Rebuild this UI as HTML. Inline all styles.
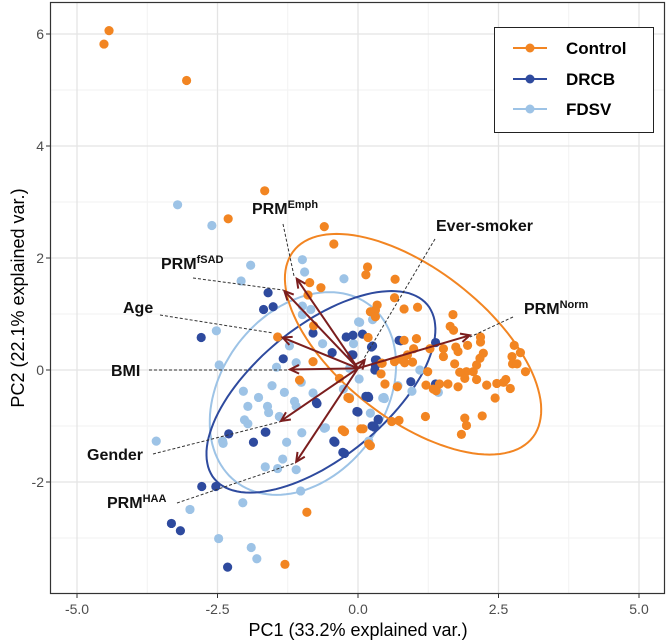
<!DOCTYPE html>
<html><head><meta charset="utf-8"><style>
html,body{margin:0;padding:0;background:#fff;}
svg{display:block;font-family:"Liberation Sans",Arial,sans-serif;}
</style></head><body>
<svg id="chart" width="669" height="644" viewBox="0 0 669 644">
<g id="grid"></g>
<g id="ellipses"></g>
<g id="points"></g>
<g id="leaders"></g>
<g id="arrows"></g>
<g id="labels"></g>
<rect x="50.5" y="2.5" width="614" height="591" fill="none" stroke="#333" stroke-width="1.2"/>
<g id="axes"></g>
<text x="358" y="636" font-size="18" text-anchor="middle" fill="#000">PC1 (33.2% explained var.)</text>
<text transform="translate(24,298) rotate(-90)" font-size="18" text-anchor="middle" fill="#000">PC2 (22.1% explained var.)</text>
<g>
<rect x="494.5" y="27.5" width="159" height="105" fill="#fff" stroke="#222" stroke-width="1"/>
<g><line x1="513" y1="48" x2="547" y2="48" stroke="#F28522" stroke-width="2"/><circle cx="530" cy="48" r="4.5" fill="#F28522"/><text x="566" y="54" font-size="17" font-weight="bold">Control</text></g>
<g><line x1="513" y1="79" x2="547" y2="79" stroke="#2E4A9E" stroke-width="2"/><circle cx="530" cy="79" r="4.5" fill="#2E4A9E"/><text x="566" y="85" font-size="17" font-weight="bold">DRCB</text></g>
<g><line x1="513" y1="109" x2="547" y2="109" stroke="#9DC3E6" stroke-width="2"/><circle cx="530" cy="109" r="4.5" fill="#9DC3E6"/><text x="566" y="115" font-size="17" font-weight="bold">FDSV</text></g>
</g>
</svg>
<script>
const xTicks=[-5,-2.5,0,2.5,5];
const xTickLabels=["-5.0","-2.5","0.0","2.5","5.0"];
const xMinor=[-3.75,-1.25,1.25,3.75];
const yTicks=[-2,0,2,4,6];
const yTickLabels=["-2","0","2","4","6"];
const yMinor=[-3,-1,1,3,5];
const ctrlX=[-4.43,-4.52,-3.05,-1.66,-2.31,-0.6,-0.43,0.17,0.14,-0.86,-0.66,-0.89,0.34,0.22,0.66,0.65,0.82,1.06,0.31,0.31,1.69,1.64,1.70,2.18,2.18,0.18,0.82,1.04,1.28,1.52,1.52,1.74,1.78,1.95,0.99,0.88,0.76,0.65,0.83,0.97,0.42,2.23,2.17,2.11,2.05,1.93,1.81,1.72,1.24,1.90,2.11,2.29,2.47,2.59,2.63,2.71,2.44,2.74,2.78,2.89,2.75,2.83,2.98,0.41,0.48,0.70,1.21,1.34,1.45,1.60,1.78,1.39,-0.18,1.20,1.90,1.93,2.21,1.84,0.60,0.73,0.05,-0.28,0.19,-1.43,-0.79,-0.80,-1.04,-0.33,-0.15,-0.24,0.09,0.22,-0.91,-1.30,0.43];
const ctrlY=[6.06,5.82,5.17,3.2,2.70,2.56,2.25,1.84,1.70,1.56,1.47,1.34,1.16,1.04,1.62,1.29,1.09,1.12,1.07,0.95,0.99,0.78,0.71,0.59,0.50,0.58,0.53,0.56,0.38,0.38,0.24,0.41,0.33,0.44,0.38,0.27,0.19,0.15,0.13,0.14,0.12,0.30,0.21,0.09,-0.03,-0.03,-0.04,0.11,-0.03,-0.15,-0.17,-0.27,-0.24,-0.22,-0.17,-0.33,-0.5,0.24,0.44,0.31,0.11,0.11,-0.03,-0.07,-0.25,-0.30,-0.27,-0.34,-0.25,-0.25,-0.30,-0.37,-0.49,-0.83,-0.86,-0.99,-0.82,-1.15,-0.92,-0.90,-1.05,-1.07,-1.32,0.59,0.79,0.15,-0.18,-0.15,-0.51,-1.10,-1.05,-1.35,-2.54,-3.47,0.12];
const drcbX=[-1.60,-1.68,-1.51,-2.79,-0.80,-0.21,-0.09,0.08,-0.46,-0.09,0.26,-1.33,0.33,0.30,0.18,-0.74,-0.02,0.36,0.27,-2.30,-1.65,-1.86,-0.43,-0.27,0.76,0.94,-2.78,-2.53,-3.32,-3.16,-2.32,-0.73,-0.41,-0.24,0.00,0.19,0.29,1.38,0.73,0.24,-0.11,0.31,0.31,1.38,0.14,0.25,0.36,-1.64];
const drcbY=[1.38,1.08,1.13,0.58,0.66,0.59,0.62,0.64,0.31,0.27,0.43,0.20,0.18,0.00,-0.47,-0.58,-0.74,-0.88,-1.00,-1.14,-1.11,-1.29,-1.27,-1.47,0.52,-0.21,-2.08,-2.08,-2.74,-2.87,-3.52,-0.60,-1.29,-1.49,-0.75,-0.49,-1.02,0.49,0.53,0.41,0.27,0.18,0.08,-0.25,-0.47,-1.00,-0.89,-1.11];
const fdsvX=[-3.21,-2.60,-1.91,-2.08,-0.99,-0.95,-0.25,-0.99,-0.84,0.03,0.26,-2.52,-0.63,-1.22,-1.10,-1.45,-0.15,-1.01,0.02,-2.04,-1.77,-1.53,-1.31,-1.96,-1.61,-1.59,-1.13,-1.10,-0.80,-1.40,-2.02,-1.96,-2.41,-1.00,-0.60,-1.27,-1.34,-1.10,-1.65,-1.43,0.71,0.46,-0.15,-0.26,-3.59,-2.99,-2.05,-2.48,-1.90,-1.80,-2.47,-2.40,-1.02,-0.58,0.47,0.01,-0.08,1.10,0.96,1.43,0.44,0.22,0.19,-0.99];
const fdsvY=[2.95,2.58,1.87,1.59,1.97,1.75,1.63,1.14,1.08,0.85,0.90,0.70,0.47,0.43,0.13,0.05,0.03,-0.22,-0.16,-0.38,-0.49,-0.28,-0.40,-0.65,-0.65,-0.76,-0.56,-0.65,-0.41,-0.83,-0.89,-0.96,-1.27,-1.12,-1.04,-1.29,-1.59,-1.78,-1.73,-1.76,-0.28,-0.49,-0.49,-0.34,-1.27,-2.49,-2.37,-3.01,-3.17,-3.37,0.09,-1.31,-2.16,-1.03,-0.51,0.86,0.47,0.00,-0.38,-0.40,-0.50,-0.77,-1.27,0.99];
const ellCx=[0.98,-0.66,-0.98];
const ellCy=[0.46,-0.39,-0.42];
const ellHy=[1.97,1.80,1.81];
const ellXc=[-1.36,1.26,0.47];
const ellXs=[1.83,1.60,1.59];
const loadNames=["PRM Emph","PRM fSAD","Age","BMI","Gender","PRM HAA","Ever-smoker","PRM Norm"];
const loadX=[-1.09,-1.31,-1.34,-1.21,-1.37,-1.10,0.12,1.99];
const loadY=[1.63,1.41,0.58,0.01,-0.91,-1.64,0.18,0.62];

const X=v=>358+56.2*v, Y=v=>370-56*v;
const NS="http://www.w3.org/2000/svg";
function mk(tag,parent,attrs){const e=document.createElementNS(NS,tag);for(const k in attrs)e.setAttribute(k,attrs[k]);parent.appendChild(e);return e;}
const grid=document.getElementById('grid');
xMinor.forEach(v=>{const l=mk('line',grid,{x1:X(v),x2:X(v),y1:2,y2:593,stroke:'#f2f2f2','stroke-width':1});

});
yMinor.forEach(v=>{const l=mk('line',grid,{x1:50,x2:665,y1:Y(v),y2:Y(v),stroke:'#f2f2f2','stroke-width':1});

});
const axes=document.getElementById('axes');
xTicks.forEach((v,i)=>{const l=mk('line',grid,{x1:X(v),x2:X(v),y1:2,y2:593,stroke:'#e4e4e4','stroke-width':1.3});


mk('line',axes,{x1:X(v),x2:X(v),y1:594,y2:598,stroke:'#333'});
const t=mk('text',axes,{x:X(v),y:614,'font-size':14,'text-anchor':'middle',fill:'#4d4d4d'});t.textContent=xTickLabels[i];

});
yTicks.forEach((v,i)=>{const l=mk('line',grid,{x1:50,x2:665,y1:Y(v),y2:Y(v),stroke:'#e4e4e4','stroke-width':1.3});


mk('line',axes,{x1:46,x2:50,y1:Y(v),y2:Y(v),stroke:'#333'});
const t=mk('text',axes,{x:44,y:Y(v)+5,'font-size':14,'text-anchor':'end',fill:'#4d4d4d'});t.textContent=yTickLabels[i];

});

const colors=['#F28522','#2E4A9E','#9DC3E6'];
const ellG=document.getElementById('ellipses');
const ellNames=['ellipse-control','ellipse-drcb','ellipse-fdsv'];
[2,1,0].forEach(k=>{let d='';for(let i=0;i<=120;i++){const t=i/120*2*Math.PI;const x=ellCx[k]+ellXc[k]*Math.cos(t)+ellXs[k]*Math.sin(t);const y=ellCy[k]+ellHy[k]*Math.cos(t);d+=(i?'L':'M')+X(x).toFixed(1)+','+Y(y).toFixed(1);}
const p=mk('path',ellG,{d:d+'Z',fill:'none',stroke:colors[k],'stroke-width':2});

});

const ptsG=document.getElementById('points');
function drawPts(xs,ys,c,name){xs.forEach((x,i)=>{const p=mk('circle',ptsG,{cx:X(x),cy:Y(ys[i]),r:4.6,fill:c});

});}
drawPts(fdsvX,fdsvY,colors[2],'point-fdsv');
drawPts(drcbX,drcbY,colors[1],'point-drcb');
drawPts(ctrlX,ctrlY,colors[0],'point-control');

const lead=[[283,224,294,276],[193,278,283,290],[160,315,273,333],[149,370,290,370],[153,454,287,420],[177,503,295,463],[435,239,363,360],[513,317,470,337]];
const lg=document.getElementById('leaders');
lead.forEach(a=>{const l=mk('line',lg,{x1:a[0],y1:a[1],x2:a[2],y2:a[3],stroke:'#333','stroke-width':1,'stroke-dasharray':'3,2'});

});

const ag=document.getElementById('arrows');
const ox=X(0),oy=Y(0.03);
loadX.forEach((lx,i)=>{const tx=X(lx),ty=Y(loadY[i]);
const l=mk('line',ag,{x1:ox,y1:oy,x2:tx,y2:ty,stroke:'#7B1E1E','stroke-width':2});


const ang=Math.atan2(ty-oy,tx-ox),h=10,w=0.45;
const p=mk('polyline',ag,{points:`${tx-h*Math.cos(ang-w)},${ty-h*Math.sin(ang-w)} ${tx},${ty} ${tx-h*Math.cos(ang+w)},${ty-h*Math.sin(ang+w)}`,fill:'none',stroke:'#7B1E1E','stroke-width':2});

});

const lbl=[["PRM","Emph",252,214],["PRM","fSAD",161,269],["Age","",123,313],["BMI","",111,376],["Gender","",87,460],["PRM","HAA",107,508],["Ever-smoker","",436,231],["PRM","Norm",524,314]];
const lbG=document.getElementById('labels');
lbl.forEach(a=>{const t=mk('text',lbG,{x:a[2],y:a[3],'font-size':16,'font-weight':'bold',fill:'#111'});
t.textContent=a[0];
if(a[1]){const s=mk('tspan',t,{'font-size':11,dy:-6});s.textContent=a[1];}

});
</script>
</body></html>
